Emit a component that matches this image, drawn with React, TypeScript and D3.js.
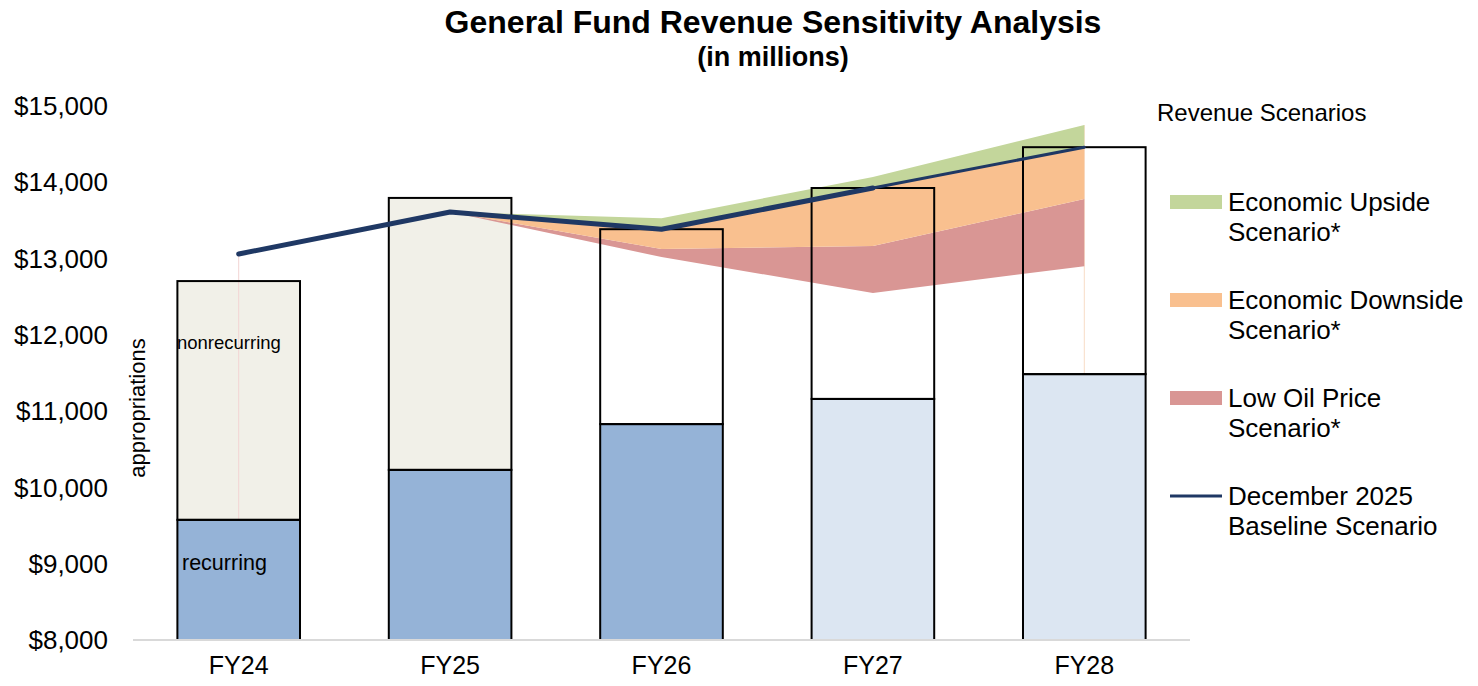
import * as d3 from 'd3';

const years = ['FY24', 'FY25', 'FY26', 'FY27', 'FY28'];
// appropriations (in millions)
const recurring = [9575, 10230, 10830, 11160, 11485];
const totalApprop = [12705, 13795, 13385, 13925, 14460];
// revenue scenarios
const baseline = [13060, 13610, 13385, 13925, 14460];
const upside = [13060, 13610, 13530, 14070, 14750];
const downside = [13060, 13610, 13125, 13165, 13780];
const lowOil = [13060, 13610, 13020, 12550, 12900];
const yTicks = [8000, 9000, 10000, 11000, 12000, 13000, 14000, 15000];

const W = 1478;
const H = 686;
const font = "'Liberation Sans', Arial, sans-serif";

const legendItems = [
  { lines: ['Economic Upside', 'Scenario*'], color: '#C3D69B', kind: 'rect' },
  { lines: ['Economic Downside', 'Scenario*'], color: '#F9C08F', kind: 'rect' },
  { lines: ['Low Oil Price', 'Scenario*'], color: '#D99694', kind: 'rect' },
  { lines: ['December 2025', 'Baseline Scenario'], color: '#1F3864', kind: 'line' },
];

const App = () => {
  // inner coordinates are offset by 8px (the old body margin), see the <g> below
  const x = d3.scaleBand<string>().domain(years).range([125, 1182]).paddingInner(0.42).paddingOuter(0.21);
  const y = d3.scaleLinear().domain([8000, 15000]).range([632, 98]);
  const cx = (i: number) => (x(years[i]) as number) + x.bandwidth() / 2;
  const bw = x.bandwidth();

  const band = (top: number[], bottom: number[]) =>
    d3.area<number>()
      .x((_, i) => cx(i))
      .y0((_, i) => y(bottom[i]))
      .y1((_, i) => y(top[i]))(years.map((_, i) => i));

  const lineGen = d3.line<number>().x(i => cx(i)).y(i => y(baseline[i]));

  return (
    <svg width={W} height={H} style={{ position: 'absolute', left: 0, top: 0, display: 'block', fontFamily: font }}>
      <g transform="translate(8,8)">
        <text x={765} y={25} textAnchor="middle" fontSize={32} fontWeight="bold" fill="#000">
          General Fund Revenue Sensitivity Analysis
        </text>
        <text x={765} y={58} textAnchor="middle" fontSize={27} fontWeight="bold" fill="#000">
          (in millions)
        </text>

        {yTicks.map(t => (
          <text key={t} x={100} y={y(t)} dy="0.35em" textAnchor="end" fontSize={26} fill="#000">
            {d3.format('$,')(t)}
          </text>
        ))}

        {/* nonrecurring fills */}
        {years.map((yr, i) => (
          <rect key={'n' + yr} x={x(yr)} y={y(totalApprop[i])} width={bw}
            height={y(recurring[i]) - y(totalApprop[i])} fill={i < 2 ? '#F1F0E8' : '#FFFFFF'} />
        ))}

        {/* faint area edges */}
        <line x1={cx(0)} x2={cx(0)} y1={y(baseline[0])} y2={y(8000)} stroke="#F2D4D3" strokeWidth={1} />
        <line x1={cx(4)} x2={cx(4)} y1={y(upside[4])} y2={y(8000)} stroke="#F8DCC6" strokeWidth={1} />

        {/* scenario bands */}
        <path d={band(downside, lowOil) as string} fill="#D99694" />
        <path d={band(baseline, downside) as string} fill="#F9C08F" />
        <path d={band(upside, baseline) as string} fill="#C3D69B" />

        {/* recurring fills */}
        {years.map((yr, i) => (
          <rect key={'r' + yr} x={x(yr)} y={y(recurring[i])} width={bw}
            height={y(8000) - y(recurring[i])} fill={i < 3 ? '#95B3D7' : '#DCE6F2'} />
        ))}

        {/* bar outlines */}
        {years.map((yr, i) => (
          <g key={'o' + yr} fill="none" stroke="#000" strokeWidth={2}>
            <rect x={x(yr)} y={y(totalApprop[i])} width={bw} height={y(recurring[i]) - y(totalApprop[i])} />
            <rect x={x(yr)} y={y(recurring[i])} width={bw} height={y(8000) - y(recurring[i])} />
          </g>
        ))}

        <line x1={125} x2={1182} y1={y(8000)} y2={y(8000)} stroke="#D9D9D9" strokeWidth={2} />

        {/* baseline scenario line */}
        <path d={lineGen([0, 1, 2, 3]) as string} fill="none" stroke="#1F3864" strokeWidth={5} strokeLinecap="round" strokeLinejoin="round" />
        <path d={lineGen([3, 4]) as string} fill="none" stroke="#1F3864" strokeWidth={3} strokeLinecap="round" />

        {years.map(yr => (
          <text key={'x' + yr} x={(x(yr) as number) + bw / 2} y={666} textAnchor="middle" fontSize={25} fill="#000">
            {yr}
          </text>
        ))}

        <text x={169} y={340.5} fontSize={18.5} fill="#000">nonrecurring</text>
        <text x={174} y={561.5} fontSize={21.5} fill="#000">recurring</text>
        <text transform="translate(137,400) rotate(-90)" textAnchor="middle" fontSize={22} fill="#000">
          appropriations
        </text>

        {/* legend */}
        <text x={1149} y={113} fontSize={24} fill="#000">Revenue Scenarios</text>
        {legendItems.map((d, k) => {
          const cy = 194 + k * 98;
          return (
            <g key={d.lines[0]}>
              {d.kind === 'rect'
                ? <rect x={1162} y={cy - 7} width={52} height={14} fill={d.color} />
                : <line x1={1162} x2={1214} y1={cy} y2={cy} stroke={d.color} strokeWidth={3} />}
              {d.lines.map((t, j) => (
                <text key={t} x={1220} y={cy + j * 30} dy="0.35em" fontSize={26} fill="#000">{t}</text>
              ))}
            </g>
          );
        })}
      </g>
    </svg>
  );
};

export default App;
